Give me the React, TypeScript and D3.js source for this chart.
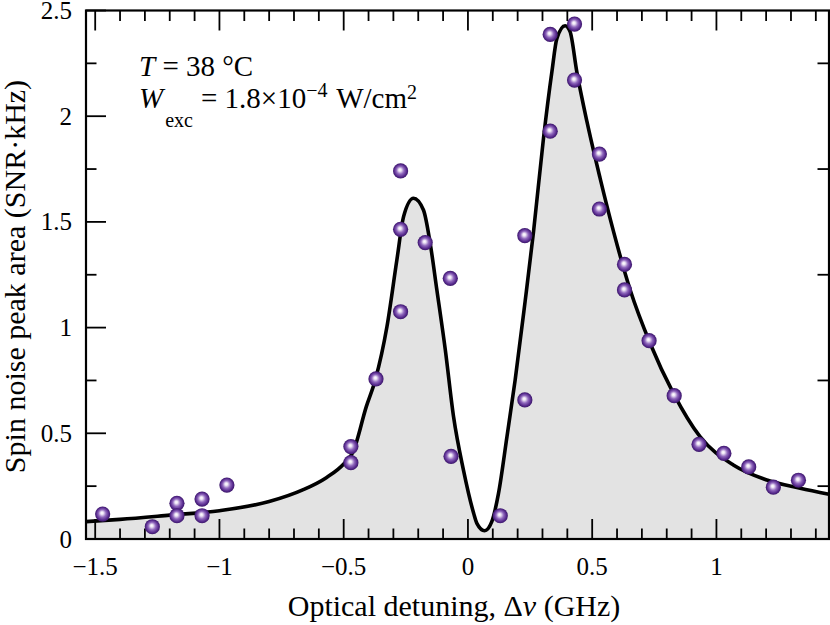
import React from "react";
import * as d3 from "d3";

// Measured data points (optical detuning in GHz, spin noise peak area)
const pointX = [-1.47, -1.27, -1.171, -1.171, -1.07, -1.07, -0.97, -0.471, -0.471, -0.37, -0.271, -0.271, -0.271, -0.172, -0.071, -0.068, 0.13, 0.229, 0.229, 0.331, 0.331, 0.429, 0.429, 0.529, 0.529, 0.63, 0.63, 0.729, 0.83, 0.93, 1.03, 1.13, 1.229, 1.33];
const pointY = [0.118, 0.058, 0.169, 0.11, 0.189, 0.11, 0.255, 0.437, 0.361, 0.757, 1.075, 1.741, 1.465, 1.402, 1.233, 0.391, 0.11, 1.435, 0.658, 1.929, 2.387, 2.436, 2.171, 1.821, 1.561, 1.299, 1.178, 0.938, 0.678, 0.448, 0.405, 0.341, 0.245, 0.278];

// Fit curve
const curveX = [-1.537, -1.4, -1.2, -1.0, -0.8, -0.665, -0.57, -0.5, -0.463, -0.409, -0.373, -0.326, -0.286, -0.259, -0.219, -0.179, -0.152, -0.125, -0.091, -0.058, -0.018, 0.023, 0.036, 0.067, 0.096, 0.123, 0.157, 0.19, 0.23, 0.264, 0.304, 0.338, 0.358, 0.391, 0.411, 0.438, 0.479, 0.532, 0.586, 0.653, 0.733, 0.827, 0.934, 1.068, 1.203, 1.337, 1.453];
const curveY = [0.082, 0.093, 0.113, 0.134, 0.177, 0.232, 0.29, 0.355, 0.41, 0.626, 0.752, 1.004, 1.32, 1.525, 1.612, 1.556, 1.399, 1.178, 0.894, 0.579, 0.326, 0.122, 0.074, 0.039, 0.082, 0.216, 0.484, 0.752, 1.123, 1.454, 1.895, 2.211, 2.368, 2.428, 2.4, 2.211, 1.974, 1.706, 1.454, 1.178, 0.926, 0.689, 0.484, 0.35, 0.279, 0.24, 0.212];

const xMajor = [-1.5, -1, -0.5, 0, 0.5, 1];
const xMajorLabels = ["\u22121.5", "\u22121", "\u22120.5", "0", "0.5", "1"];
const xMinor = [-1.4, -1.3, -1.2, -1.1, -0.9, -0.8, -0.7, -0.6, -0.4, -0.3, -0.2, -0.1, 0.1, 0.2, 0.3, 0.4, 0.6, 0.7, 0.8, 0.9, 1.1, 1.2, 1.3, 1.4];
const yMajor = [0, 0.5, 1, 1.5, 2, 2.5];
const yMajorLabels = ["0", "0.5", "1", "1.5", "2", "2.5"];
const yMinor = [0.25, 0.75, 1.25, 1.75, 2.25];

const W = 830;
const H = 625;
const L = 86, R = 829, T = 10.5, B = 539;
const FONT = "'Liberation Serif', 'Times New Roman', Times, serif";

export default function App() {
  const x = d3.scaleLinear().domain([-1.537, 1.453]).range([L, R]);
  const y = d3.scaleLinear().domain([0, 2.5]).range([B, T]);
  const fit = curveX.map((v, i) => [v, curveY[i]] as [number, number]);
  const area = d3.area<[number, number]>().x(d => x(d[0])).y0(y(0)).y1(d => y(d[1])).curve(d3.curveMonotoneX);
  const line = d3.line<[number, number]>().x(d => x(d[0])).y(d => y(d[1])).curve(d3.curveMonotoneX);

  const majLen = 20, minLen = 10.5;
  return (
    <svg width={W} height={H} style={{ position: "absolute", left: 0, top: 0, background: "#fff" }} fontFamily={FONT}>
      <defs>
        <radialGradient id="ball" cx="0.5" cy="0.5" r="0.5" fx="0.45" fy="0.42">
          <stop offset="0" stopColor="#ffffff" />
          <stop offset="0.18" stopColor="#eee6f6" />
          <stop offset="0.5" stopColor="#9068bd" />
          <stop offset="0.82" stopColor="#56298c" />
          <stop offset="1" stopColor="#3b1768" />
        </radialGradient>
      </defs>
      <rect x={0} y={0} width={W} height={H} fill="#fff" />
      <path d={area(fit) ?? ""} fill="#e3e3e3" />
      {/* ticks */}
      <g stroke="#000" strokeWidth={1.8}>
        {xMajor.map(v => (
          <g key={"xm" + v}>
            <line x1={x(v)} x2={x(v)} y1={B} y2={B - majLen} />
            <line x1={x(v)} x2={x(v)} y1={T} y2={T + majLen} />
          </g>
        ))}
        {xMinor.map(v => (
          <g key={"xn" + v}>
            <line x1={x(v)} x2={x(v)} y1={B} y2={B - minLen} />
            <line x1={x(v)} x2={x(v)} y1={T} y2={T + minLen} />
          </g>
        ))}
        {yMajor.map(v => (
          <line key={"ym" + v} x1={L} x2={L + majLen} y1={y(v)} y2={y(v)} />
        ))}
        {yMinor.map(v => (
          <g key={"yn" + v}>
            <line x1={L} x2={L + minLen} y1={y(v)} y2={y(v)} />
            <line x1={R} x2={R - minLen - 1} y1={y(v)} y2={y(v)} />
          </g>
        ))}
      </g>
      <rect x={L} y={T} width={R - L} height={B - T} fill="none" stroke="#000" strokeWidth={2.2} />
      <path d={line(fit) ?? ""} fill="none" stroke="#000" strokeWidth={3.6} strokeLinejoin="round" />
      {pointX.map((v, i) => (
        <circle key={"p" + i} cx={x(v)} cy={y(pointY[i])} r={7.6} fill="url(#ball)" />
      ))}
      {/* tick labels */}
      <g fontSize={25} fill="#000">
        {xMajor.map((v, i) => (
          <text key={"xl" + v} x={x(v)} y={575} textAnchor="middle">{xMajorLabels[i]}</text>
        ))}
        {yMajor.map((v, i) => (
          <text key={"yl" + v} x={72} y={y(v) + 8.5} textAnchor="end">{yMajorLabels[i]}</text>
        ))}
      </g>
      {/* axis titles */}
      <text x={454} y={616} fontSize={30} textAnchor="middle">
        Optical detuning, {"\u0394"}<tspan fontStyle="italic">{"\u03bd"}</tspan> (GHz)
      </text>
      <text transform="translate(25,276.5) rotate(-90)" fontSize={30} textAnchor="middle">
        Spin noise peak area (SNR{"\u00b7"}kHz)
      </text>
      {/* annotations */}
      <text x={139} y={76} fontSize={29}>
        <tspan fontStyle="italic">T</tspan> = 38 {"\u00b0"}C
      </text>
      <text x={139} y={108} fontSize={29}>
        <tspan fontStyle="italic">W</tspan>
        <tspan fontSize={20} dy={19} dx={2}>exc</tspan>
        <tspan dy={-19} dx={8}>= 1.8{"\u00d7"}10</tspan>
        <tspan fontSize={20} dy={-11}>{"\u2212"}4</tspan>
        <tspan dy={11} dx={2}> W/cm</tspan>
        <tspan fontSize={20} dy={-9}>2</tspan>
      </text>
    </svg>
  );
}
